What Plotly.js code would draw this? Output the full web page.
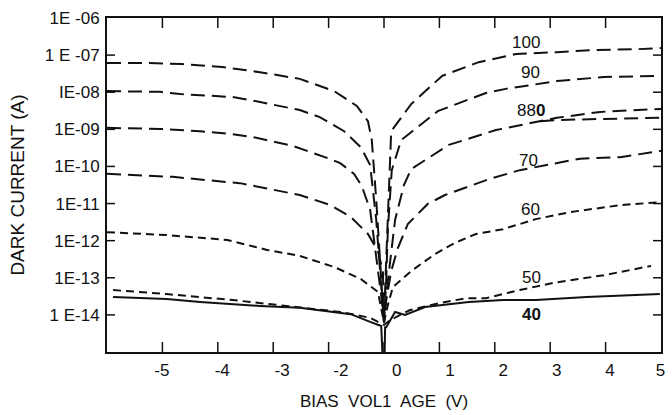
<!DOCTYPE html>
<html><head><meta charset="utf-8">
<script src="https://cdn.plot.ly/plotly-3.0.1.min.js"></script>
<style>html,body{margin:0;padding:0;background:#fff}#chart{width:672px;height:415px}</style>
</head><body><div id="chart"></div>
<script>
// Bias voltage (V) and log10 of dark current (A) for each curve label
const v100 = [-5.0, -4.28, -3.65, -2.92, -2.24, -1.52, -0.90, -0.49, -0.29, -0.22, -0.14, -0.07, 0, 0.04, 0.08, 0.13, 0.49, 1.05, 1.71, 2.38, 3.12, 3.84, 4.58, 5.0];
const l100 = [-7.21, -7.21, -7.24, -7.32, -7.46, -7.64, -7.97, -8.37, -8.78, -9.29, -10.9, -12.5, -14.2, -12.5, -10.9, -9.05, -8.32, -7.56, -7.19, -6.97, -6.92, -6.86, -6.84, -6.81];
const v90 = [-5, -4.04, -3.68, -2.73, -2.42, -1.52, -1.16, -0.72, -0.42, -0.25, -0.14, -0.05, 0, 0.04, 0.07, 0.14, 0.31, 0.97, 1.84, 2.2, 3.12, 3.97, 5];
const l90 = [-7.97, -7.99, -8.05, -8.13, -8.21, -8.48, -8.67, -9.05, -9.48, -9.96, -11.44, -13.06, -14.2, -13.06, -11.7, -10.1, -9.29, -8.51, -8.02, -7.91, -7.70, -7.59, -7.56];
const v80 = [-5, -4.04, -3.32, -2.73, -2.36, -1.64, -1.03, -0.79, -0.54, -0.40, -0.25, -0.13, -0.04, 0, 0.05, 0.2, 0.36, 0.49, 1.17, 2.02, 2.87, 3.12, 3.9, 4.71, 5];
const l80 = [-8.96, -8.99, -9.05, -9.13, -9.21, -9.45, -9.77, -9.91, -10.2, -10.53, -11.17, -12.52, -13.6, -14.2, -13.33, -11.44, -10.5, -10.07, -9.42, -9.02, -8.78, -8.69, -8.53, -8.47, -8.45];
const v80b = [2.82, 3.12, 3.9, 4.71, 5];
const l80b = [-8.78, -8.75, -8.72, -8.69, -8.69];
const v70 = [-5, -3.81, -2.83, -2.6, -1.52, -0.97, -0.6, -0.29, -0.11, -0.02, 0, 0.04, 0.13, 0.25, 0.43, 0.79, 1.1, 1.41, 1.9, 2.45, 3.54, 4.26, 5];
const l70 = [-10.2, -10.28, -10.42, -10.45, -10.77, -11.04, -11.36, -11.82, -12.28, -12.82, -14.2, -13.6, -12.82, -12.2, -11.55, -11.01, -10.77, -10.61, -10.34, -10.1, -9.79, -9.75, -9.58];
const v60 = [-5, -3.92, -2.83, -2.11, -1.52, -0.9, -0.42, -0.11, 0, 0.07, 0.16, 0.49, 0.92, 1.28, 1.66, 2.15, 2.74, 3.36, 4.28, 5];
const l60 = [-11.77, -11.85, -11.98, -12.25, -12.41, -12.71, -13.03, -13.38, -14.2, -13.73, -13.25, -12.82, -12.36, -12.06, -11.82, -11.69, -11.42, -11.23, -11.04, -10.96];
const v50 = [-4.89, -3.92, -2.73, -1.52, -0.79, -0.25, 0, 0.11, 0.47, 1.01, 1.48, 1.84, 2.45, 3.05, 3.97, 4.82];
const l50 = [-13.33, -13.44, -13.6, -13.79, -13.92, -14.08, -14.27, -14.14, -13.87, -13.68, -13.55, -13.55, -13.33, -13.14, -12.93, -12.68];
const v40 = [-4.89, -3.92, -3.32, -2.24, -1.52, -0.85, -0.6, -0.25, -0.05, 0, 0.02, 0.04, 0.2, 0.38, 0.74, 1.53, 2.15, 2.74, 3.66, 4.98];
const l40 = [-13.52, -13.57, -13.65, -13.76, -13.81, -13.92, -13.98, -14.19, -14.3, -16, -14.33, -14.33, -13.92, -14.0, -13.79, -13.65, -13.6, -13.6, -13.52, -13.44];

// Axis ticks and labels
const xTickPos = [-4, -3, -2, -1, 0, 1, 2, 3, 4];
const xLabelPos = [-4.01, -2.92, -1.84, -0.78, 0.23, 1.19, 2.15, 3.12, 4.08, 4.99];
const xLabelText = ["-5", "-4", "-3", "-2", "0", "1", "2", "3", "4", "5"];
const yDecades = [-14, -13, -12, -11, -10, -9, -8, -7];
const yTickVals = [1e-6, 1e-7, 1e-8, 1e-9, 1e-10, 1e-11, 1e-12, 1e-13, 1e-14];
const yTickText = ["1E -06", "1 E -07", "IE-08", "1E-09", "1E-10", "1E-11", "1E-12", "1E-13", "1 E-14"];

// Curve labels
const labelText = ["100", "90", "88<b>0</b>", "70", "60", "50", "<b>40</b>"];
const labelV = [2.56, 2.65, 2.65, 2.6, 2.65, 2.67, 2.67];
const labelLog = [-6.67, -7.48, -8.48, -9.85, -11.15, -13.0, -13.98];

const pow = a => a.map(v => Math.pow(10, v));
const longDash = "14px,7px", shortDash = "8px,5px";
function tr(x, l, dash, xa) {
  return {x: x, y: pow(l), xaxis: xa || "x", type: "scatter", mode: "lines", line: {color: "#111", width: 2, dash: dash}, hoverinfo: "skip", showlegend: false};
}
const data = [
  tr(v100, l100, longDash), tr(v90, l90, longDash), tr(v80, l80, longDash), tr(v80b, l80b, longDash),
  tr(v70, l70, longDash), tr(v60, l60, shortDash), tr(v50, l50, shortDash), tr(v40, l40, "solid", "x2")
];
const font = "Liberation Sans, Arial, Helvetica, sans-serif";
const annotations = labelText.map((t, i) => ({x: labelV[i], y: labelLog[i], xref: "x", yref: "y", text: t, showarrow: false, font: {family: font, size: 17, color: "#111"}}));

// inward tick marks on all four sides
const tickLine = {color: "#111", width: 1.5};
const xTickFrac = 10 / 334, yTickFrac = 8 / 554;
const shapes = [];
xTickPos.forEach(v => {
  shapes.push({type: "line", xref: "x", yref: "paper", x0: v, x1: v, y0: 0, y1: xTickFrac, line: tickLine});
  shapes.push({type: "line", xref: "x", yref: "paper", x0: v, x1: v, y0: 1, y1: 1 - xTickFrac, line: tickLine});
});
yDecades.forEach(d => {
  const f = (d + 15) / 9;
  shapes.push({type: "line", xref: "paper", yref: "paper", x0: 0, x1: yTickFrac, y0: f, y1: f, line: tickLine});
  shapes.push({type: "line", xref: "paper", yref: "paper", x0: 1, x1: 1 - yTickFrac, y0: f, y1: f, line: tickLine});
});

const layout = {
  width: 672, height: 415,
  margin: {l: 107, r: 11, t: 18, b: 63},
  paper_bgcolor: "#fff", plot_bgcolor: "#fff",
  font: {family: font, color: "#111", size: 16},
  showlegend: false,
  xaxis: {
    range: [-5, 5], showgrid: false, zeroline: false, showline: true, linecolor: "#111", linewidth: 2, mirror: true,
    showticklabels: false, ticks: ""
  },
  xaxis2: {
    overlaying: "x", matches: "x", anchor: "y", side: "bottom", range: [-5, 5],
    showgrid: false, zeroline: false, showline: false, ticks: "",
    tickmode: "array", tickvals: xLabelPos, ticktext: xLabelText, ticklabelstandoff: 6,
    tickfont: {size: 17},
    title: {text: "BIAS\u00a0 VOL1\u00a0 AGE\u00a0 (V)", font: {size: 17}, standoff: 16}
  },
  yaxis: {
    type: "log", range: [-15, -6], showgrid: false, zeroline: false, showline: true, linecolor: "#111", linewidth: 2, mirror: true,
    tickmode: "array", tickvals: yTickVals, ticktext: yTickText, ticks: "",
    tickfont: {size: 17}, ticklabelstandoff: 2,
    title: {text: "DARK CURRENT (A)", font: {size: 19}, standoff: 15}
  },
  shapes: shapes,
  annotations: annotations
};
Plotly.newPlot("chart", data, layout, {staticPlot: true});
</script></body></html>
